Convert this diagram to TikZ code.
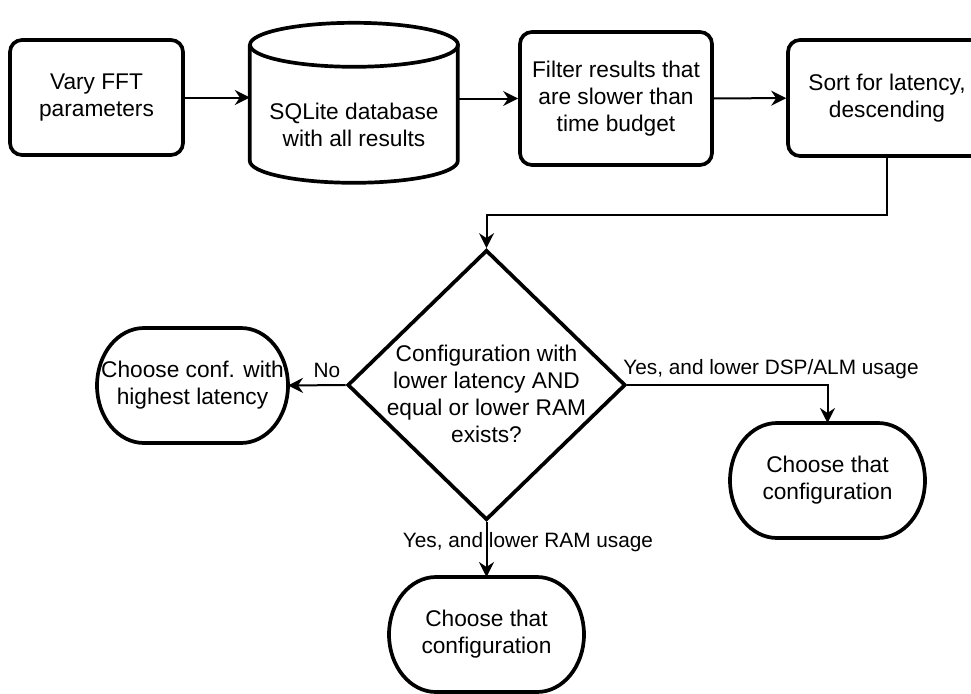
\documentclass[tikz,border=0pt]{standalone}
\usepackage{fontspec}
\setmainfont{Liberation Sans}
\usetikzlibrary{shapes.geometric,arrows.meta,calc}

\newcommand{\flowfont}{\fontsize{22.7pt}{27.2pt}\selectfont}
\newcommand{\edgefont}{\fontsize{20.8pt}{25pt}\selectfont}

\begin{document}
\begin{tikzpicture}[x=1pt,y=-1pt,
    shapeline/.style={line width=3.7pt},
    stepbox/.style={draw,shapeline,rounded corners=12pt,align=center,font=\flowfont,inner sep=0pt},
    endbox/.style={align=center,font=\flowfont,inner sep=0pt,outer sep=0pt,
                   minimum width=195,minimum height=115},
    flow/.style={line width=2pt,-{Stealth[length=15pt,width=15pt,inset=5pt]}}]
      \useasboundingbox (0,0) rectangle (971,693);

      % top row
      \node (vary)   [stepbox, minimum width=173, minimum height=115] at (96.5,97.5) {Vary FFT\\parameters};
      \node (db)     [minimum width=208, minimum height=160, inner sep=0pt] at (354,103) {};
      \node (filter) [stepbox, minimum width=192, minimum height=133] at (616,98.5) {Filter results that\\are slower than\\time budget};
      \node (sort)   [stepbox, minimum width=198, minimum height=116] at (887,98) {Sort for latency,\\descending};

      % database cylinder
      \draw [shapeline] (db.north west) ++(0,22) -- ++(0,116)
            arc [start angle=180, end angle=360, x radius=104pt, y radius=22pt] -- ++(0,-116);
      \draw [shapeline] (db.north) ++(0,22) ellipse [x radius=104pt, y radius=22pt];
      \node (dbText) [align=center, font=\flowfont] at (354,125) {SQLite database\\with all results};

      % decision
      \node (dec) [diamond, draw, shapeline, minimum width=278, minimum height=270, inner sep=0pt] at (486.5,385) {};
      \node (decText) [align=center, font=\flowfont] at (486.5,394) {Configuration with\\lower latency AND\\equal or lower RAM\\exists?};

      % outcomes
      \node (chooseHigh) [endbox, minimum width=191] at (192.5,385.5) {Choose conf. with\\highest latency};
      \node (chooseDsp)  [endbox] at (827.5,480.5) {Choose that\\configuration};
      \node (chooseRam)  [endbox] at (486.5,634.5) {Choose that\\configuration};

      % stadium outlines
      \foreach \n in {chooseHigh,chooseDsp,chooseRam}
        \draw [shapeline] ($(\n.north west)+(47,0)$) -- ($(\n.north east)+(-47,0)$)
              arc [start angle=90, end angle=-90, x radius=47pt, y radius=57.5pt]
              -- ($(\n.south west)+(47,0)$)
              arc [start angle=270, end angle=90, x radius=47pt, y radius=57.5pt] -- cycle;

      % connectors
      \draw [flow] (vary.east) -- (vary.east -| db.west);
      \draw [flow] (filter.west -| db.east) -- (filter.west);
      \draw [flow] (filter) -- (sort);
      \draw [flow] (sort.south) -- ++(0,57) -| (dec.north);
      \draw [flow] (dec.west) -- (chooseHigh.east);
      \draw [flow] (dec.east) -| (chooseDsp.north);
      \draw [flow] (dec.south) -- (chooseRam.north);

      % edge labels
      \node (noLabel)  [font=\edgefont] at (327,370)   {No};
      \node (dspLabel) [font=\edgefont] at (771,369.5) {Yes, and lower DSP/ALM usage};
      \node (ramLabel) [font=\edgefont] at (528,542.5) {Yes, and lower RAM usage};
\end{tikzpicture}
\end{document}
